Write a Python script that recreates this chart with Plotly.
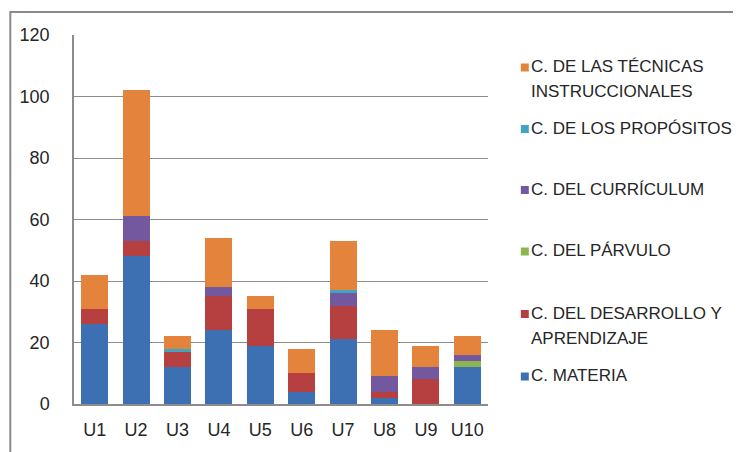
import plotly.graph_objects as go

categories = ["U1", "U2", "U3", "U4", "U5", "U6", "U7", "U8", "U9", "U10"]
materia = [26, 48, 12, 24, 19, 4, 21, 2, 0, 12]
desarrollo = [5, 5, 5, 11, 12, 6, 11, 2, 8, 0]
parvulo = [0, 0, 0, 0, 0, 0, 0, 0, 0, 2]
curriculum = [0, 8, 0, 3, 0, 0, 4, 5, 4, 2]
propositos = [0, 0, 1, 0, 0, 0, 1, 0, 0, 0]
tecnicas = [11, 41, 4, 16, 4, 8, 16, 15, 7, 6]
y_ticks = [0, 20, 40, 60, 80, 100, 120]

series = [
    ("C. MATERIA", materia, "#3D6FB3"),
    ("C. DEL DESARROLLO Y<br>APRENDIZAJE", desarrollo, "#B5403F"),
    ("C. DEL PÁRVULO", parvulo, "#8CB453"),
    ("C. DEL CURRÍCULUM", curriculum, "#7358A0"),
    ("C. DE LOS PROPÓSITOS", propositos, "#3FA5C3"),
    ("C. DE LAS TÉCNICAS<br>INSTRUCCIONALES", tecnicas, "#E4843C"),
]

FONT = "'Liberation Sans', Arial, sans-serif"
TXT = "#262626"

fig = go.Figure()
for name, vals, col in series:
    fig.add_trace(go.Bar(x=categories, y=vals, name=name.replace("<br>", " "),
                         marker_color=col, marker_line_width=0, showlegend=False))

# page has an 8px body margin; work in page pixels and convert
OFF = 8
FW, FH = 741 - OFF, 452 - OFF
L, R, T, B = 72, 488, 35, 404  # plot area in page pixels
W, H = R - L, B - T

def px(x):
    return (x - L) / W

def py(y):
    return (B - y) / H

legend_items = [
    (series[5], 67.5),
    (series[4], 129),
    (series[3], 190),
    (series[2], 251.5),
    (series[1], 314),
    (series[0], 376.5),
]
shapes = []
annotations = []
for (name, vals, col), yc in legend_items:
    shapes.append(dict(type="rect", xref="paper", yref="paper",
                       x0=px(521), x1=px(529), y0=py(yc + 4), y1=py(yc - 4),
                       fillcolor=col, line_width=0))
    for i, line in enumerate(name.split("<br>")):
        annotations.append(dict(xref="paper", yref="paper", x=px(529),
                                y=py(yc + 25 * i - 12.5),
                                xanchor="left", yanchor="top", align="left",
                                text=line, showarrow=False,
                                font=dict(family=FONT, size=17, color=TXT)))

# outer chart border (top and left visible)
shapes.append(dict(type="rect", xref="paper", yref="paper",
                   x0=px(8), x1=px(760), y0=py(470), y1=py(12),
                   line=dict(color="#8a8a8a", width=2), fillcolor="rgba(0,0,0,0)",
                   layer="below"))

fig.update_layout(
    width=FW, height=FH,
    margin=dict(l=L - OFF, r=FW - (R - OFF), t=T - OFF, b=FH - (B - OFF)),
    paper_bgcolor="white", plot_bgcolor="white",
    barmode="stack", bargap=0.35,
    font=dict(family=FONT, size=18, color=TXT),
    shapes=shapes, annotations=annotations,
)
fig.update_xaxes(showline=True, linecolor="#8c8c8c", linewidth=1.5,
                 showgrid=False, ticks="outside", ticklen=9,
                 tickcolor="rgba(0,0,0,0)", tickfont=dict(size=18, color=TXT))
fig.update_yaxes(range=[0, 120], tickvals=y_ticks, showline=True,
                 linecolor="#8c8c8c", linewidth=1.5, showgrid=True,
                 gridcolor="#8c8c8c", gridwidth=1.2, zeroline=False,
                 ticks="outside", ticklen=19, tickcolor="rgba(0,0,0,0)",
                 tickfont=dict(size=18, color=TXT))

fig.write_html("out.html")
